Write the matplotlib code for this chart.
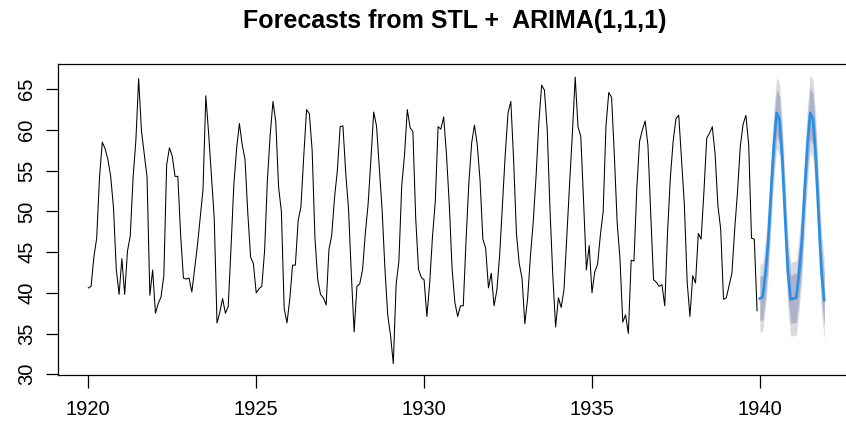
import numpy as np
import matplotlib
matplotlib.use('Agg')
import matplotlib.pyplot as plt

plt.rcParams['font.family'] = ['Liberation Sans', 'DejaVu Sans']

# ── nottem: 월평균 기온 1920-1939 ──
nottem = [
    40.6, 40.8, 44.4, 46.7, 54.1, 58.5, 57.7, 56.4, 54.3, 50.5, 42.9, 39.8,
    44.2, 39.8, 45.1, 47.0, 54.1, 58.7, 66.3, 59.9, 57.0, 54.2, 39.7, 42.8,
    37.5, 38.7, 39.5, 42.1, 55.7, 57.8, 56.8, 54.3, 54.3, 47.1, 41.8, 41.7,
    41.8, 40.1, 42.9, 45.8, 49.2, 52.7, 64.2, 59.6, 54.4, 49.2, 36.3, 37.6,
    39.3, 37.5, 38.3, 45.5, 53.2, 57.7, 60.8, 58.2, 56.4, 49.8, 44.4, 43.6,
    40.0, 40.5, 40.8, 45.1, 53.8, 59.4, 63.5, 61.0, 53.0, 50.0, 38.1, 36.3,
    39.2, 43.4, 43.4, 48.9, 50.6, 56.8, 62.5, 62.0, 57.5, 46.7, 41.6, 39.8,
    39.4, 38.5, 45.3, 47.1, 51.7, 55.0, 60.4, 60.5, 54.7, 50.3, 42.3, 35.2,
    40.8, 41.1, 42.8, 47.3, 50.9, 56.4, 62.2, 60.5, 55.4, 50.2, 43.0, 37.3,
    34.8, 31.3, 41.0, 43.9, 53.1, 56.9, 62.5, 60.3, 59.8, 49.2, 42.9, 41.9,
    41.6, 37.1, 41.2, 46.9, 51.2, 60.4, 60.1, 61.6, 57.0, 50.9, 43.0, 38.8,
    37.1, 38.4, 38.4, 46.5, 53.5, 58.4, 60.6, 58.2, 53.8, 46.6, 45.5, 40.6,
    42.4, 38.4, 40.3, 44.6, 50.9, 57.0, 62.1, 63.5, 56.3, 47.3, 43.6, 41.8,
    36.2, 39.3, 44.5, 48.7, 54.2, 60.8, 65.5, 64.9, 60.1, 50.2, 42.1, 35.8,
    39.4, 38.2, 40.4, 46.9, 53.4, 59.6, 66.5, 60.4, 59.2, 51.2, 42.8, 45.8,
    40.0, 42.6, 43.5, 47.1, 50.0, 60.5, 64.6, 64.0, 56.8, 48.6, 44.2, 36.4,
    37.3, 35.0, 44.0, 43.9, 52.7, 58.6, 60.0, 61.1, 58.1, 49.6, 41.6, 41.3,
    40.8, 41.0, 38.4, 47.4, 54.1, 58.6, 61.4, 61.8, 56.3, 50.9, 41.4, 37.1,
    42.1, 41.2, 47.3, 46.6, 52.4, 59.0, 59.6, 60.4, 57.0, 50.7, 47.8, 39.2,
    39.4, 40.9, 42.4, 47.8, 52.4, 58.0, 60.7, 61.8, 58.2, 46.7, 46.6, 37.8,
]
START_YEAR = 1920

# ── STL + ARIMA(1,1,1) 예측 (1940-1941, 그림에서 읽은 값) ──
fc_mean = [
    39.3, 39.5, 42.4, 46.4, 52.6, 58.2, 62.1, 61.3, 56.5, 49.4, 42.6, 39.2,
    39.3, 39.4, 42.4, 46.4, 52.6, 58.2, 62.1, 61.3, 56.5, 49.4, 42.6, 39.1,
]
hw80 = [
    2.70, 2.74, 2.77, 2.80, 2.82, 2.84, 2.86, 2.88, 2.90, 2.92, 2.94, 2.96,
    2.98, 3.00, 3.02, 3.04, 3.06, 3.08, 3.10, 3.12, 3.14, 3.16, 3.18, 3.20,
]
hw95 = [
    4.15, 4.20, 4.24, 4.28, 4.32, 4.35, 4.38, 4.41, 4.44, 4.47, 4.50, 4.53,
    4.56, 4.59, 4.62, 4.65, 4.68, 4.71, 4.74, 4.77, 4.80, 4.83, 4.86, 4.89,
]
FC_START = 1940

t_obs = START_YEAR + np.arange(len(nottem)) / 12
t_fc = FC_START + np.arange(len(fc_mean)) / 12
mean = np.array(fc_mean)
lo80, hi80 = mean - np.array(hw80), mean + np.array(hw80)
lo95, hi95 = mean - np.array(hw95), mean + np.array(hw95)

# 오른쪽 테두리는 그림 밖으로 잘림 (원본과 동일)
fig = plt.figure(figsize=(8.46, 4.25), dpi=100)
ax = fig.add_axes([58.3 / 846, 1 - 374.5 / 425, 790 / 846, (374.5 - 64) / 425])

ax.fill_between(t_fc, lo95, hi95, color='#D9D9E0', lw=0)
ax.fill_between(t_fc, lo80, hi80, color='#ADB2CB', lw=0)
ax.plot(t_obs, nottem, color='black', lw=0.75)
ax.plot(t_fc, mean, color='#2590E6', lw=1.9)

ax.set_xlim(1919.107, 1919.107 + 790 / 33.58)
ax.set_ylim(29.97, 68.1)
ax.set_xticks([1920, 1925, 1930, 1935, 1940])
ax.set_yticks(range(30, 66, 5))
ax.tick_params(direction='out', length=9.5, width=0.9, labelsize=14.5, pad=9)
ax.tick_params(axis='y', length=9, pad=7)
for lbl in ax.get_yticklabels():
    lbl.set_rotation(90)
    lbl.set_va('center')
for s in ax.spines.values():
    s.set_linewidth(0.9)

fig.text(0.538, 1 - 21 / 425, 'Forecasts from STL +  ARIMA(1,1,1)',
         ha='center', va='center', fontsize=18, fontweight='bold')

plt.savefig('out.png', dpi=100)
plt.close()
